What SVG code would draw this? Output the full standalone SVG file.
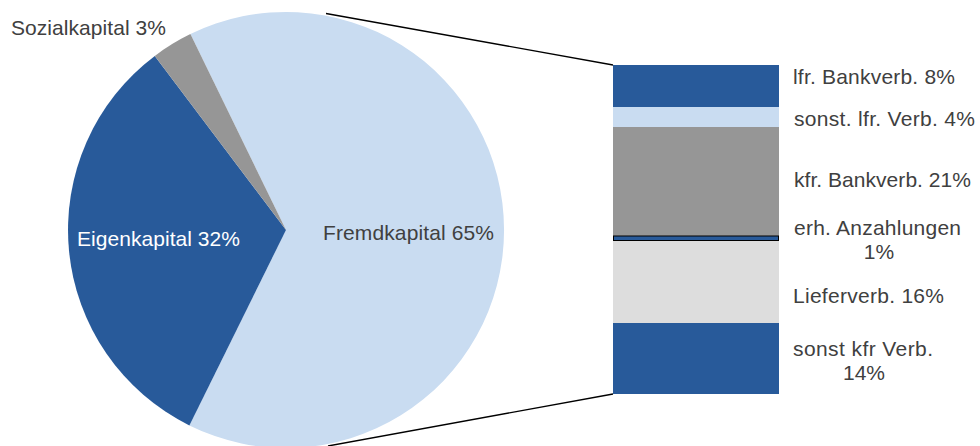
<svg xmlns="http://www.w3.org/2000/svg" width="980" height="446" viewBox="0 0 980 446">
<style>
.t{font-family:"Liberation Sans",Arial,sans-serif;font-size:21px;fill:#404040}
.w{fill:#ffffff}
.dk{fill:#285A9A}
.lb{fill:#C9DCF1}
.gr{fill:#969696}
.lg{fill:#DDDDDD}
.ln{stroke:#000;stroke-width:1.4;fill:none}
</style>
<rect width="980" height="446" fill="#fff"/>
<g id="connectors">
<line class="ln" x1="326" y1="13.5" x2="613" y2="65"/>
<line class="ln" x1="328" y1="446" x2="613" y2="394"/>
</g>
<g id="fremdkapital">
<path class="lb" d="M286,230 L190.4,34.1 A218,218 0 1 1 189.4,425.4 Z"/>
<text class="t" x="323" y="240" textLength="171" lengthAdjust="spacing">Fremdkapital 65%</text>
</g>
<g id="eigenkapital">
<path class="dk" d="M286,230 L189.4,425.4 A218,218 0 0 1 154.8,55.9 Z"/>
<text class="t w" x="77" y="246" textLength="163" lengthAdjust="spacing">Eigenkapital 32%</text>
</g>
<g id="sozialkapital">
<path class="gr" d="M286,230 L154.8,55.9 A218,218 0 0 1 190.4,34.1 Z"/>
<text class="t" x="11" y="35" textLength="155" lengthAdjust="spacing">Sozialkapital 3%</text>
</g>
<g id="lfr-bankverb">
<rect class="dk" x="613" y="65" width="166" height="42"/>
<text class="t" x="793" y="84" textLength="162" lengthAdjust="spacing">lfr. Bankverb. 8%</text>
</g>
<g id="sonst-lfr-verb">
<rect class="lb" x="613" y="107" width="166" height="20"/>
<text class="t" x="794" y="126" textLength="181" lengthAdjust="spacing">sonst. lfr. Verb. 4%</text>
</g>
<g id="kfr-bankverb">
<rect class="gr" x="613" y="127" width="166" height="109"/>
<text class="t" x="794" y="187" textLength="177" lengthAdjust="spacing">kfr. Bankverb. 21%</text>
</g>
<g id="lieferverb">
<rect class="lg" x="613" y="240.5" width="166" height="82.5"/>
<text class="t" x="793" y="303" textLength="151" lengthAdjust="spacing">Lieferverb. 16%</text>
</g>
<g id="erh-anzahlungen">
<rect class="dk" x="613.5" y="236" width="165" height="4.5" stroke="#000" stroke-width="1"/>
<text class="t" x="794" y="235" textLength="167" lengthAdjust="spacing">erh. Anzahlungen</text>
<text class="t" x="879" y="259" text-anchor="middle">1%</text>
</g>
<g id="sonst-kfr-verb">
<rect class="dk" x="613" y="323" width="166" height="71"/>
<text class="t" x="793" y="356" textLength="140" lengthAdjust="spacing">sonst kfr Verb.</text>
<text class="t" x="864" y="380" text-anchor="middle">14%</text>
</g>
</svg>
